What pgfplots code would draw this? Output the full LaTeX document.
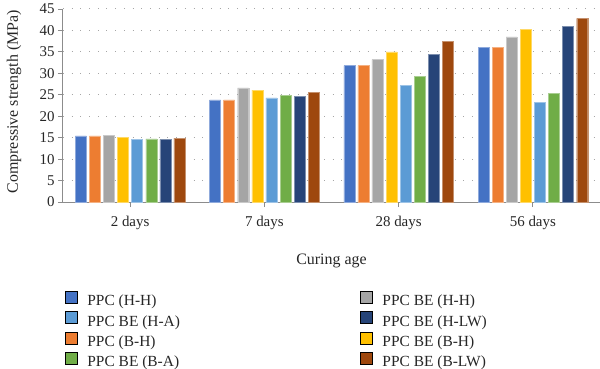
\documentclass[border=0pt]{standalone}
\usepackage{fontspec}
\setmainfont{Liberation Serif}
\usepackage{pgfplots}
\pgfplotsset{compat=1.18}
\usepackage{pgfplotstable}
\definecolor{c1}{HTML}{4472C4}
\definecolor{c2}{HTML}{ED7D31}
\definecolor{c3}{HTML}{A5A5A5}
\definecolor{c4}{HTML}{FFC000}
\definecolor{c5}{HTML}{5B9BD5}
\definecolor{c6}{HTML}{70AD47}
\definecolor{c7}{HTML}{264478}
\definecolor{c8}{HTML}{9E480E}
\definecolor{axisgray}{HTML}{8C8C8C}
\definecolor{gridgray}{HTML}{A6A6A6}
\definecolor{txt}{HTML}{262626}
\pgfplotstableread{
x s1 s2 s3 s4 s5 s6 s7 s8
0 15.4 15.4 15.6 15.1 14.6 14.7 14.6 14.9
1 23.8 23.8 26.6 26.1 24.3 24.8 24.7 25.6
2 31.8 31.8 33.2 35.0 27.2 29.3 34.5 37.5
3 36.1 36.1 38.5 40.2 23.3 25.3 41.0 42.8
}\data
\begin{document}
\begin{tikzpicture}
\begin{axis}[name=ax, scale only axis, width=537bp, height=193bp,
 xmin=-0.5, xmax=3.5, ymin=0, ymax=45,
 axis lines=left, axis line style={-, draw=axisgray, line width=1bp},
 xtick={0,1,2,3}, xticklabels={2 days,7 days,28 days,56 days},
 ytick={0,5,...,45},
 tick align=outside, major tick length=5bp, tick style={draw=axisgray, line width=0.8bp},
 ymajorgrids, grid style={draw=gridgray, line width=1bp, dash pattern=on 1bp off 7.7bp},
 /pgf/number format/assume math mode=true,
 ticklabel style={font=\fontsize{15}{18}\selectfont, text=txt},
 xticklabel style={yshift=-6bp},
 xlabel={Curing age}, ylabel={Compressive strength (MPa)},
 every axis x label/.style={at={(axis description cs:0.5,-0.326)}, anchor=base, font=\fontsize{16}{19}\selectfont, text=txt},
 every axis y label/.style={at={(axis description cs:-0.0912,0.52)}, rotate=90, anchor=center, font=\fontsize{16}{19}\selectfont, text=txt},
 ybar, bar width=11bp,
 legend columns=2, legend cell align=left,
 legend image code/.code={\fill[#1] (0bp,-1bp) rectangle (12bp,11bp);},
 legend style={at={(axis description cs:0.0037,-0.461)}, anchor=north west, draw=none, fill=none, inner sep=0pt, outer sep=0pt,
   font=\fontsize{15.5}{18}\selectfont, text=txt,
   nodes={inner sep=0pt, text height=11bp, text depth=3.5bp},
   row sep=1.9bp,
   /tikz/every odd column/.append style={column sep=10bp},
   /tikz/every even column/.append style={column sep=180bp}},
]
\addplot[forget plot, fill=c1, draw=c1!60!white, line width=0.4bp, bar shift=-49.35bp] table[x=x,y=s1]{\data};
\addplot[forget plot, fill=c2, draw=c2!60!white, line width=0.4bp, bar shift=-35.25bp] table[x=x,y=s2]{\data};
\addplot[forget plot, fill=c3, draw=c3!60!white, line width=0.4bp, bar shift=-21.15bp] table[x=x,y=s3]{\data};
\addplot[forget plot, fill=c4, draw=c4!60!white, line width=0.4bp, bar shift=-7.05bp] table[x=x,y=s4]{\data};
\addplot[forget plot, fill=c5, draw=c5!60!white, line width=0.4bp, bar shift=7.05bp] table[x=x,y=s5]{\data};
\addplot[forget plot, fill=c6, draw=c6!60!white, line width=0.4bp, bar shift=21.15bp] table[x=x,y=s6]{\data};
\addplot[forget plot, fill=c7, draw=c7!60!white, line width=0.4bp, bar shift=35.25bp] table[x=x,y=s7]{\data};
\addplot[forget plot, fill=c8, draw=c8!60!white, line width=0.4bp, bar shift=49.35bp] table[x=x,y=s8]{\data};
\addlegendimage{fill=c1}\addlegendentry{PPC (H-H)}
\addlegendimage{fill=c3}\addlegendentry{PPC BE (H-H)}
\addlegendimage{fill=c5}\addlegendentry{PPC BE (H-A)}
\addlegendimage{fill=c7}\addlegendentry{PPC BE (H-LW)}
\addlegendimage{fill=c2}\addlegendentry{PPC (B-H)}
\addlegendimage{fill=c4}\addlegendentry{PPC BE (B-H)}
\addlegendimage{fill=c6}\addlegendentry{PPC BE (B-A)}
\addlegendimage{fill=c8}\addlegendentry{PPC BE (B-LW)}
\end{axis}
\pgfresetboundingbox
\path ([xshift=-63bp,yshift=-167bp]ax.south west) rectangle ([yshift=9bp]ax.north east);
\end{tikzpicture}
\end{document}
